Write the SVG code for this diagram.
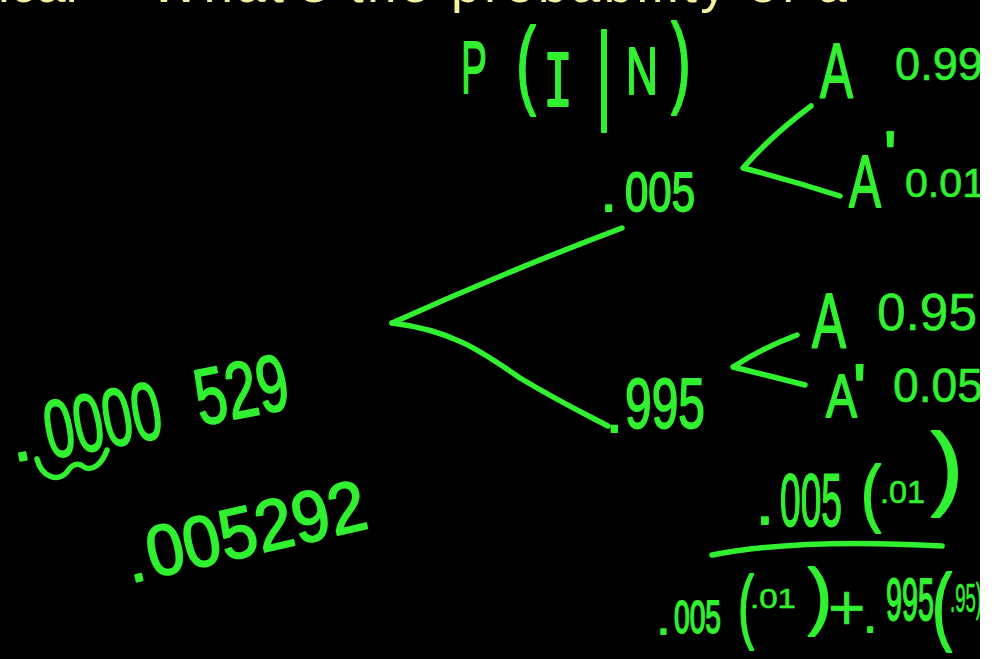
<svg xmlns="http://www.w3.org/2000/svg" width="994" height="659" viewBox="0 0 994 659">
<style>
.hw{font-family:"Liberation Sans","DejaVu Sans",sans-serif;fill:#30f030;stroke:#30f030;stroke-width:1.8;stroke-linejoin:round}
.thin{stroke-width:0.6}
.mono{font-family:"Liberation Mono","DejaVu Sans Mono",monospace}
.ln{fill:none;stroke:#30f030;stroke-width:5.5;stroke-linecap:round;stroke-linejoin:round}
.top{font-family:"Liberation Sans","DejaVu Sans",sans-serif;font-size:53px;fill:#f4f0a0}
</style>
<rect x="0" y="0" width="994" height="659" fill="#000"/>
<text class="top" y="2"><tspan x="-2">ical</tspan><tspan x="150" textLength="697">What's the probability of a</tspan></text>

<g id="title">
<text class="hw"><tspan x="461" y="93" font-size="75" textLength="26" lengthAdjust="spacingAndGlyphs">P</tspan><tspan x="516" y="96" font-size="98" textLength="20" lengthAdjust="spacingAndGlyphs">(</tspan><tspan class="mono" x="543" y="106" font-size="80" textLength="30" lengthAdjust="spacingAndGlyphs">I</tspan><tspan x="596" y="109" font-size="110" textLength="16" lengthAdjust="spacingAndGlyphs">|</tspan><tspan x="626" y="94" font-size="67" textLength="32" lengthAdjust="spacingAndGlyphs">N</tspan><tspan x="671" y="94" font-size="101" textLength="20" lengthAdjust="spacingAndGlyphs">)</tspan></text>
</g>

<g id="connectors">
<path class="ln" d="M392,323 Q505,272 622,228"/>
<path class="ln" d="M392,323 C450,330 480,350 520,378 C560,402 585,414 608,426"/>
<path class="ln" d="M811,106 Q772,135 743,168 Q790,180 840,196"/>
<path class="ln" d="M797,335 Q762,348 733,367 Q770,376 805,385"/>
<path class="ln" d="M712,555 Q800,538 942,546"/>
</g>

<g id="node-i">
<text class="hw"><tspan x="601" y="211" font-size="55">.</tspan><tspan x="625" y="211" font-size="55" textLength="70" lengthAdjust="spacingAndGlyphs">005</tspan></text>
</g>
<g id="node-n">
<text class="hw"><tspan x="606" y="432" font-size="60">.</tspan><tspan x="625" y="428" font-size="70" textLength="80" lengthAdjust="spacingAndGlyphs">995</tspan></text>
</g>

<g id="node-i-a">
<text class="hw"><tspan x="820" y="98" font-size="77" textLength="33" lengthAdjust="spacingAndGlyphs">A</tspan><tspan class="thin" x="895" y="80" font-size="46" textLength="88" lengthAdjust="spacingAndGlyphs">0.99</tspan></text>
</g>
<g id="node-i-a2">
<text class="hw"><tspan x="849" y="207" font-size="75" textLength="32" lengthAdjust="spacingAndGlyphs">A</tspan><tspan x="884" y="178" font-size="66">'</tspan><tspan class="thin" x="905" y="197" font-size="40" textLength="80" lengthAdjust="spacingAndGlyphs">0.01</tspan></text>
</g>
<g id="node-n-a">
<text class="hw"><tspan x="812" y="348" font-size="78" textLength="34" lengthAdjust="spacingAndGlyphs">A</tspan><tspan class="thin" x="877" y="330" font-size="52" textLength="100" lengthAdjust="spacingAndGlyphs">0.95</tspan></text>
</g>
<g id="node-n-a2">
<text class="hw"><tspan x="826" y="417" font-size="61" textLength="31" lengthAdjust="spacingAndGlyphs">A</tspan><tspan x="853" y="412" font-size="69">'</tspan><tspan class="thin" x="893" y="402" font-size="49" textLength="90" lengthAdjust="spacingAndGlyphs">0.05</tspan></text>
</g>

<g id="calc1">
<text class="hw" transform="translate(14,462) rotate(-11)"><tspan x="0" y="0" font-size="70">.</tspan><tspan x="36" y="4" font-size="82" textLength="118" lengthAdjust="spacingAndGlyphs">0000</tspan><tspan x="190" y="0" font-size="80" textLength="94" lengthAdjust="spacingAndGlyphs">529</tspan></text>
<path class="ln" d="M37,459 C42,478 58,482 67,472 C72,464 78,462 84,467 C92,472 102,464 107,450"/>
</g>

<g id="calc2">
<text class="hw" transform="translate(131,583) rotate(-13)"><tspan x="0" y="0" font-size="64">.</tspan><tspan x="22" y="0" font-size="72" textLength="224" lengthAdjust="spacingAndGlyphs">005292</tspan></text>
</g>

<g id="fraction">
<text class="hw"><tspan x="756" y="524" font-size="64">.</tspan><tspan x="780" y="526" font-size="75" textLength="62" lengthAdjust="spacingAndGlyphs">005</tspan><tspan x="861" y="518" font-size="74" textLength="20" lengthAdjust="spacingAndGlyphs">(</tspan><tspan class="thin" x="880" y="503" font-size="32" textLength="45" lengthAdjust="spacingAndGlyphs">.01</tspan><tspan x="931" y="498" font-size="92" textLength="32" lengthAdjust="spacingAndGlyphs">)</tspan></text>
<text class="hw"><tspan x="657" y="634" font-size="46">.</tspan><tspan x="674" y="633" font-size="46" textLength="47" lengthAdjust="spacingAndGlyphs">005</tspan><tspan x="738" y="633" font-size="82" textLength="16" lengthAdjust="spacingAndGlyphs">(</tspan><tspan class="thin" x="750" y="608" font-size="28" textLength="46" lengthAdjust="spacingAndGlyphs">.01</tspan><tspan x="808" y="621" font-size="75" textLength="24" lengthAdjust="spacingAndGlyphs">)</tspan><tspan class="thin" x="828" y="630" font-size="64">+</tspan><tspan x="864" y="632" font-size="44">.</tspan><tspan x="886" y="620" font-size="60" textLength="48" lengthAdjust="spacingAndGlyphs">995</tspan><tspan x="932" y="634" font-size="85" textLength="20" lengthAdjust="spacingAndGlyphs">(</tspan><tspan class="thin" x="950" y="612" font-size="40" textLength="32" lengthAdjust="spacingAndGlyphs">.95)</tspan></text>
</g>

<rect x="980" y="0" width="14" height="659" fill="#fff"/>
</svg>
